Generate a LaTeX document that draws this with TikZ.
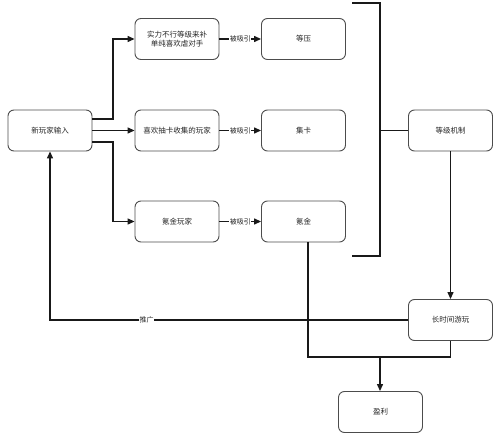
\documentclass[tikz,border=0pt]{standalone}
\usepackage{fontspec}
\newfontfamily\cjk{Noto Sans CJK SC}
\usetikzlibrary{arrows.meta}
\begin{document}
\begin{tikzpicture}[x=1pt,y=-1pt,
  box/.style={draw=black!70,line width=0.9pt,rounded corners=6pt,minimum width=84pt,minimum height=41pt,align=center,font=\cjk\fontsize{7.5}{9.5}\selectfont,text=black!85,inner sep=1pt},
  conn/.style={line width=1.3pt,draw=black!90},
  arr/.style={conn,-{Triangle[length=7pt,width=6pt]}},
  lbl/.style={fill=white,font=\cjk\fontsize{7}{8}\selectfont,inner sep=0.5pt,text=black!85}]
\useasboundingbox (0,0) rectangle (500,438);
\node[box] (new) at (50,130.5) {新玩家输入};
\node[box] (a1) at (177,39) {实力不行等级来补\\单纯喜欢虐对手};
\node[box] (a2) at (177,130.5) {喜欢抽卡收集的玩家};
\node[box] (a3) at (177,221.5) {氪金玩家};
\node[box] (b1) at (303.5,39) {等压};
\node[box] (b2) at (303.5,130.5) {集卡};
\node[box] (b3) at (303.5,221.5) {氪金};
\node[box] (lvl) at (450.5,130.5) {等级机制};
\node[box] (long) at (450.5,320) {长时间游玩};
\node[box] (win) at (380.5,412) {盈利};
\coordinate (bt) at (352,3);
\coordinate (bb) at (352,256);
\coordinate (bj) at (380,130.5);
% fan out
\draw[arr] (new.east |- 0,119) -| (113,39) -- (a1.west);
\draw[arr] (new.east) -- (a2.west);
\draw[arr] (new.east |- 0,142) -| (113,221.5) -- (a3.west);
% attraction
\draw[arr] (a1.east) -- node[lbl]{被吸引} (b1.west);
\draw[arr] (a2.east) -- node[lbl]{被吸引} (b2.west);
\draw[arr] (a3.east) -- node[lbl]{被吸引} (b3.west);
% bracket
\draw[conn] (bt) -- (380,3) -- (380,256) -- (bb);
\draw[conn] (bj) -- (lvl.west);
% level to long play
\draw[arr] (lvl.south) -- (long.north);
% promotion
\draw[arr] (long.west) -- node[lbl,pos=0.73]{推广} (50,320) -- (new.south);
% profit
\draw[conn] (b3.south -| 308,0) |- (380,357);
\draw[conn] (long.south) |- (380,357);
\draw[arr] (380,357) -- (win.north -| 380,0);
\end{tikzpicture}
\end{document}
